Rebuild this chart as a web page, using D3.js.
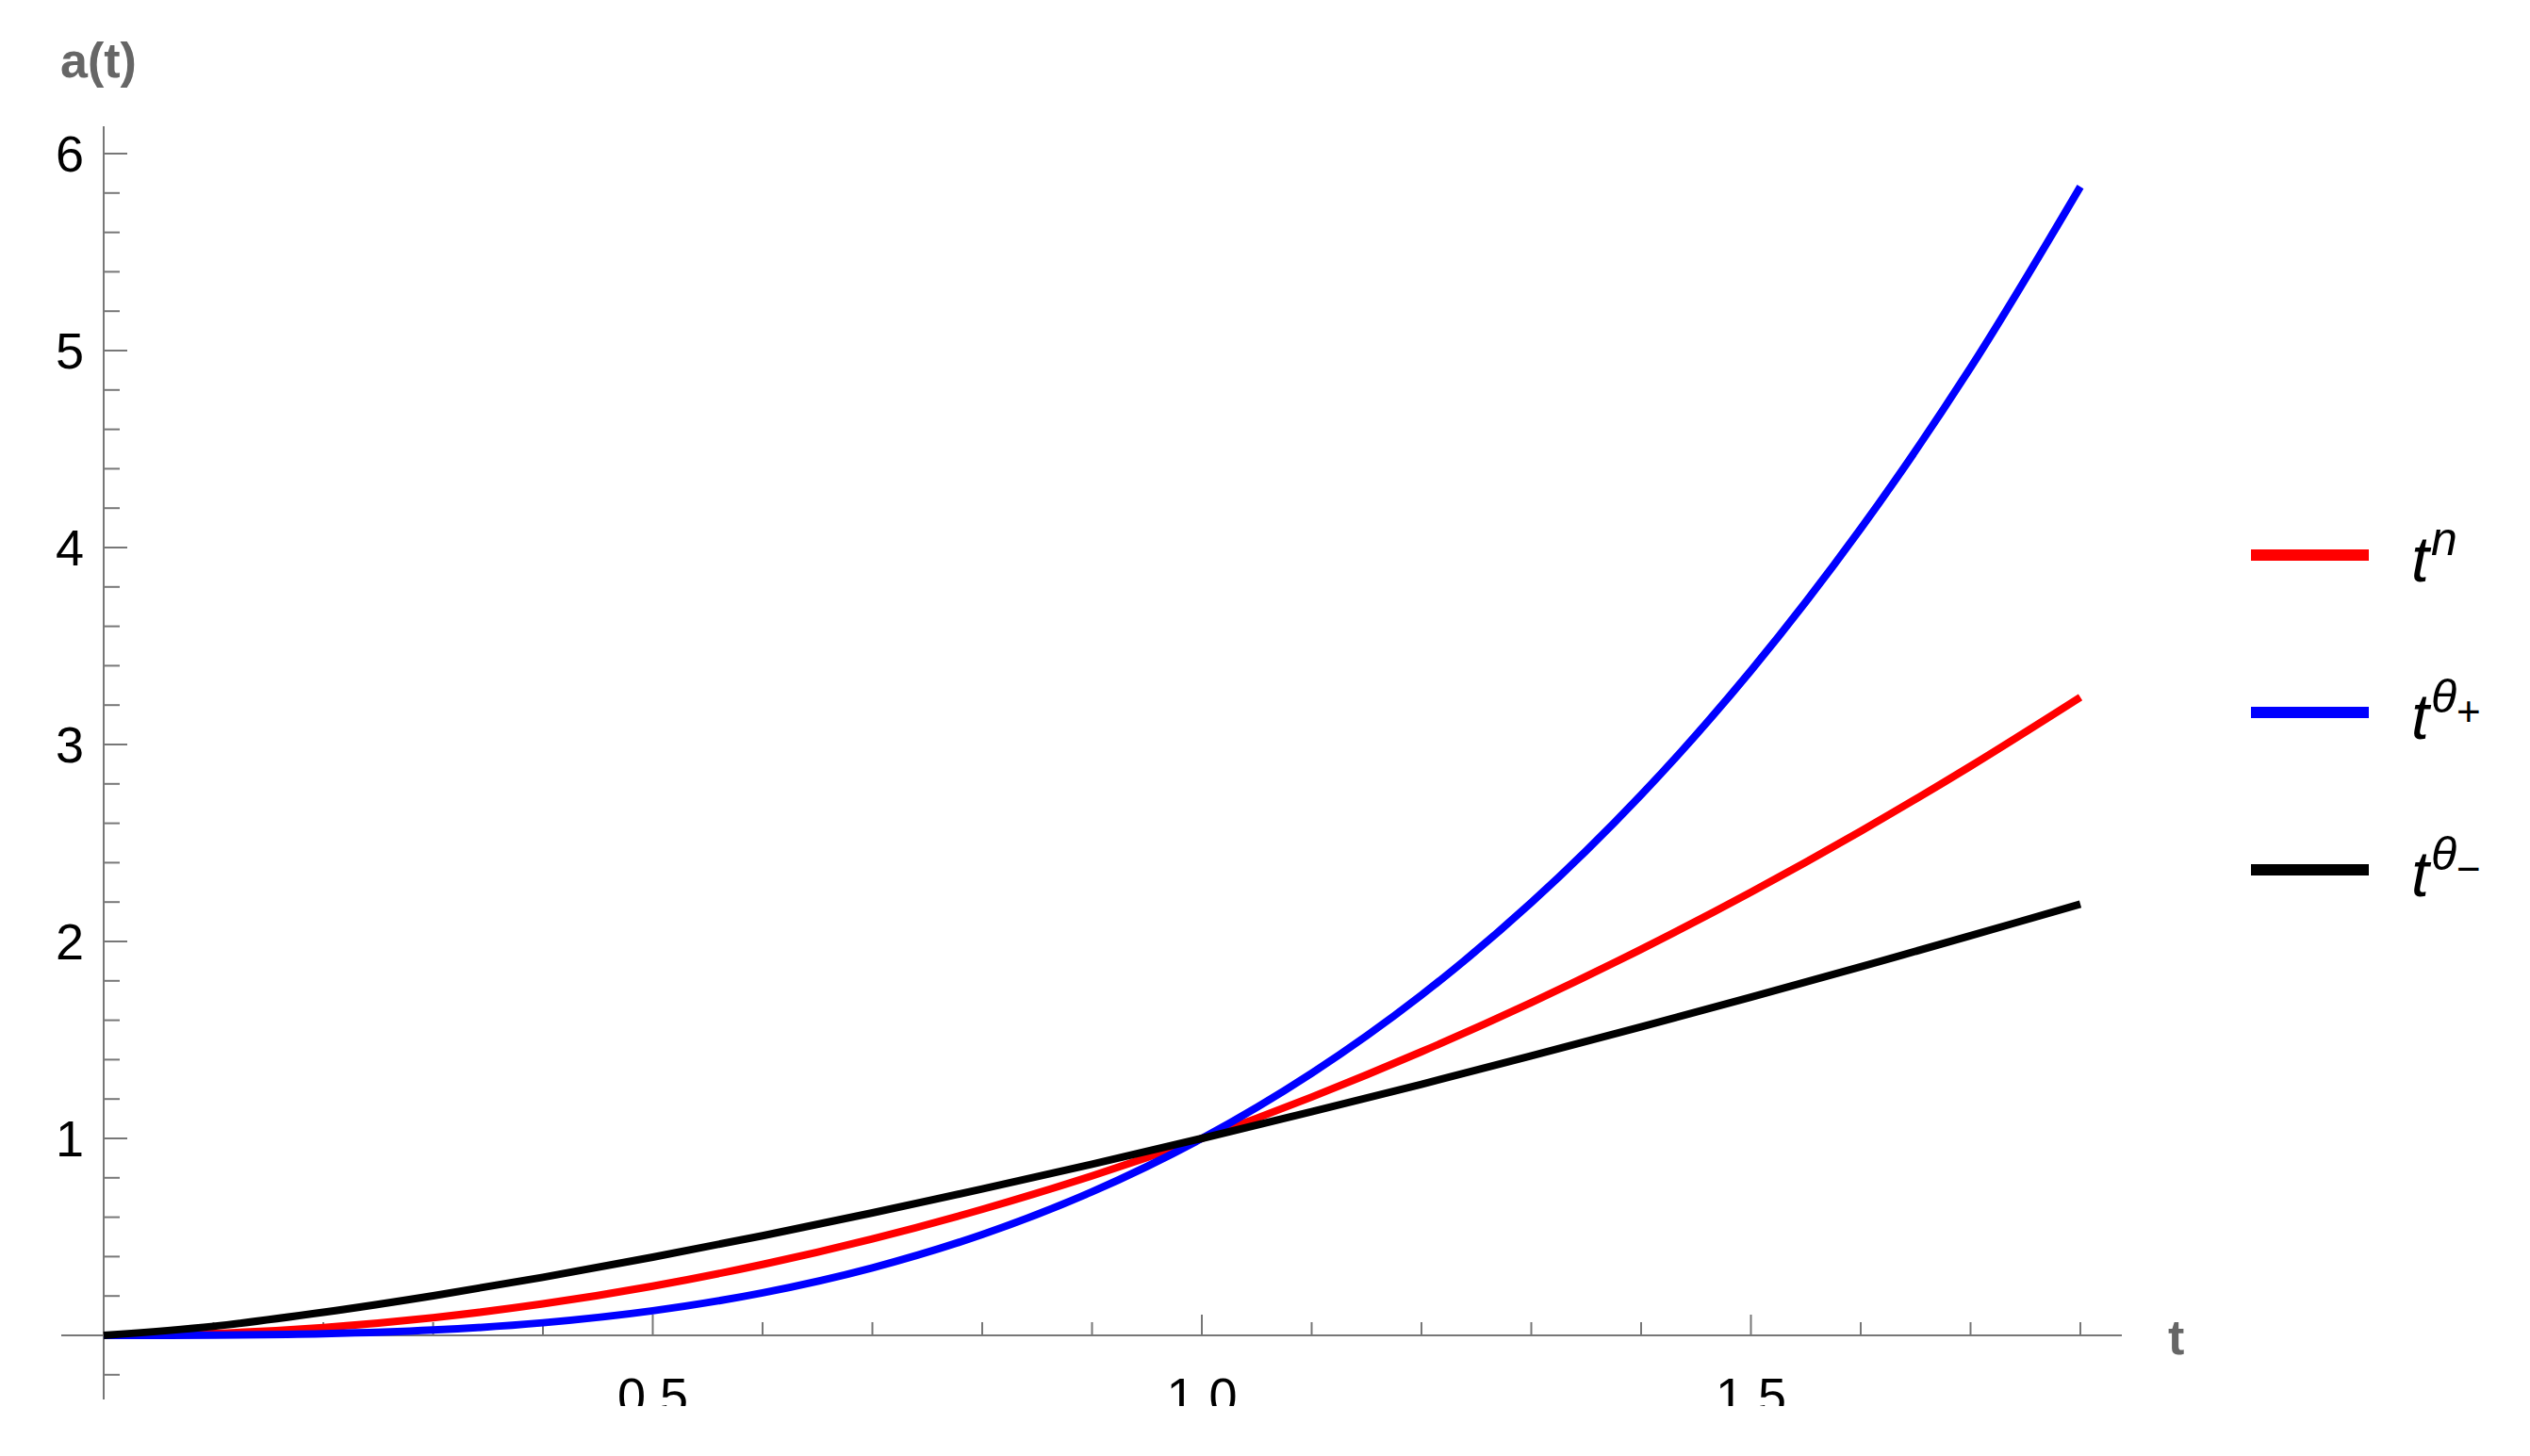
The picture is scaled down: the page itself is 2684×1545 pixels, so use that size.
<!DOCTYPE html>
<html>
<head>
<meta charset="utf-8">
<script src="https://cdn.jsdelivr.net/npm/d3@7"></script>
<style>
  body { margin: 0; background: #fff; }
  svg text { font-family: "Liberation Sans", Arial, sans-serif; }
</style>
</head>
<body>
<div id="chart"></div>
<script>
// values, t = 0 .. 1.8 step 0.1
var tValues = [0, 0.1, 0.2, 0.3, 0.4, 0.5, 0.6, 0.7, 0.8, 0.9, 1.0,
  1.1, 1.2, 1.3, 1.4, 1.5, 1.6, 1.7, 1.8];
var redValues = [0, 0.01, 0.04, 0.09, 0.16, 0.25, 0.36, 0.49, 0.64, 0.81, 1,
  1.21, 1.44, 1.69, 1.96, 2.25, 2.56, 2.89, 3.24];
var blueValues = [0, 0.001, 0.008, 0.027, 0.064, 0.125, 0.216, 0.343, 0.512, 0.729, 1,
  1.331, 1.728, 2.197, 2.744, 3.375, 4.096, 4.913, 5.832];
var blackValues = [0, 0.046, 0.117, 0.201, 0.295, 0.397, 0.506, 0.622, 0.743, 0.869, 1,
  1.136, 1.275, 1.419, 1.566, 1.717, 1.871, 2.029, 2.19];
var xTickLabels = ["0.5", "1.0", "1.5"];
var yTickLabels = ["1", "2", "3", "4", "5", "6"];

var W = 2684, H = 1545;
var axisGray = "#777", labelGray = "#666";

var svg = d3.select("#chart").append("svg")
  .attr("width", W).attr("height", H);

// scales: t=0 -> 110, t=1 -> 1275 ; a=0 -> 1417, a=1 -> 1208
var x = d3.scaleLinear().domain([0, 1]).range([110, 1275]);
var y = d3.scaleLinear().domain([0, 1]).range([1417, 1208]);

// x axis line + ticks (ticks pointing up)
svg.append("line")
  .attr("x1", 65).attr("x2", 2251)
  .attr("y1", y(0)).attr("y2", y(0))
  .attr("stroke", axisGray).attr("stroke-width", 2);

var xMinor = d3.range(1, 19).map(function(i) { return i / 10; });
svg.selectAll(".xt").data(xMinor).enter().append("line")
  .attr("x1", function(d) { return x(d); })
  .attr("x2", function(d) { return x(d); })
  .attr("y1", y(0))
  .attr("y2", function(d) { return y(0) - (Math.round(d * 10) % 5 === 0 ? 22 : 14); })
  .attr("stroke", axisGray).attr("stroke-width", 2);

// x tick labels, clipped at the bottom like the source
svg.append("clipPath").attr("id", "xclip")
  .append("rect").attr("x", 0).attr("y", 0).attr("width", W).attr("height", 1492);
svg.append("g").attr("clip-path", "url(#xclip)")
  .selectAll("text").data(xTickLabels).enter().append("text")
  .attr("x", function(d) { return x(+d); })
  .attr("y", 1500)
  .attr("text-anchor", "middle")
  .attr("font-size", 54)
  .attr("fill", "#000")
  .text(function(d) { return d; });

// y axis line + ticks (pointing right)
svg.append("line")
  .attr("x1", x(0)).attr("x2", x(0))
  .attr("y1", 134).attr("y2", 1485)
  .attr("stroke", axisGray).attr("stroke-width", 2);

var yMinor = d3.range(-1, 31).map(function(i) { return i / 5; }).filter(function(d) { return d !== 0; });
svg.selectAll(".yt").data(yMinor).enter().append("line")
  .attr("x1", x(0))
  .attr("x2", function(d) { return x(0) + (Math.round(d * 5) % 5 === 0 ? 25 : 17); })
  .attr("y1", function(d) { return y(d); })
  .attr("y2", function(d) { return y(d); })
  .attr("stroke", axisGray).attr("stroke-width", 2);

svg.selectAll(".yl").data(yTickLabels).enter().append("text")
  .attr("x", 89)
  .attr("y", function(d) { return y(+d) + 19; })
  .attr("text-anchor", "end")
  .attr("font-size", 54)
  .attr("fill", "#000")
  .text(function(d) { return d; });

// axis titles
svg.append("text").attr("x", 64).attr("y", 82)
  .attr("font-size", 52).attr("font-weight", "bold").attr("fill", labelGray)
  .text("a(t)");
svg.append("text").attr("x", 2300).attr("y", 1437)
  .attr("font-size", 52).attr("font-weight", "bold").attr("fill", labelGray)
  .text("t");

// curves
var series = [
  { values: redValues, color: "#ff0000" },
  { values: blueValues, color: "#0000ff" },
  { values: blackValues, color: "#000000" }
];
var line = d3.line()
  .x(function(d, i) { return x(tValues[i]); })
  .y(function(d) { return y(d); })
  .curve(d3.curveCatmullRom.alpha(0.5));

svg.selectAll(".curve").data(series).enter().append("path")
  .attr("d", function(s) { return line(s.values); })
  .attr("fill", "none")
  .attr("stroke", function(s) { return s.color; })
  .attr("stroke-width", 8)
  .attr("stroke-linecap", "butt");

// legend
var legend = [
  { color: "#ff0000", sup: "n", sub: "", y: 589 },
  { color: "#0000ff", sup: "\u03b8", sub: "+", y: 756 },
  { color: "#000000", sup: "\u03b8", sub: "\u2212", y: 923 }
];
var lg = svg.selectAll(".leg").data(legend).enter().append("g");
lg.append("line")
  .attr("x1", 2388).attr("x2", 2513)
  .attr("y1", function(d) { return d.y; }).attr("y2", function(d) { return d.y; })
  .attr("stroke", function(d) { return d.color; })
  .attr("stroke-width", 12);
var lt = lg.append("text")
  .attr("x", 2558)
  .attr("y", function(d) { return d.y + 28; })
  .attr("font-size", 68)
  .attr("font-style", "italic")
  .attr("fill", "#000");
lt.append("tspan").text("t");
lt.append("tspan").attr("dy", -28).attr("font-size", 50).attr("dx", 2)
  .text(function(d) { return d.sup; });
lt.append("tspan").attr("dy", 14).attr("font-size", 44).attr("font-style", "normal")
  .text(function(d) { return d.sub; });
</script>
</body>
</html>
